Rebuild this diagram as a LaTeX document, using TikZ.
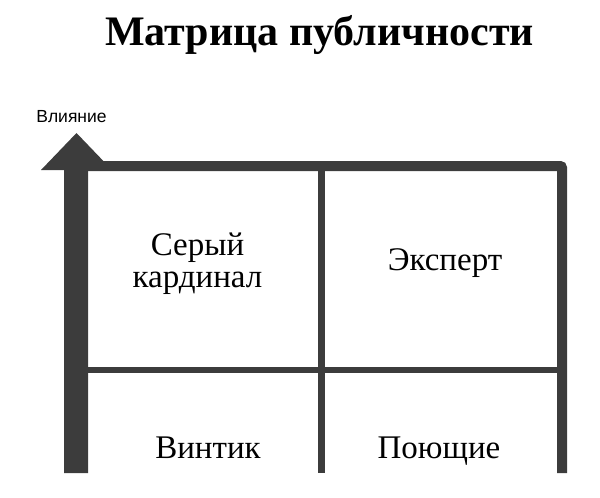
\documentclass[tikz,border=0pt]{standalone}
\usepackage{fontspec}
\setmainfont{Liberation Serif}
\newfontfamily\labelfont{Liberation Sans}
\definecolor{linegray}{RGB}{60,60,60}
\tikzset{
  cell/.style={font=\fontsize{33}{34}\selectfont, align=center, inner sep=0pt, anchor=base},
  gridline/.style={draw=linegray},
}
\begin{document}
\begin{tikzpicture}[x=1pt,y=-1pt]
\useasboundingbox (0,0) rectangle (600,498);
% title
\node[font=\fontsize{42}{44}\selectfont\bfseries, inner sep=0pt, anchor=base] (title) at (319.5,45) {Матрица публичности};
% axis label
\node[font=\labelfont\fontsize{17.5}{18}\selectfont, inner sep=0pt, anchor=base] (infl) at (71.5,122) {Влияние};
% coordinates
\coordinate (tl) at (76,166);
\coordinate (tm) at (321.5,166);
\coordinate (tr) at (562,166);
\coordinate (ml) at (76,370);
\coordinate (mr) at (562,370);
\coordinate (bl) at (76,473);
\coordinate (bm) at (321.5,473);
\coordinate (br) at (562,473);
% grid lines
\draw[gridline, line width=10pt, rounded corners=2pt] (tl) -- (tr) -- (br);
\draw[gridline, line width=7pt] (tm) -- (bm);
\draw[gridline, line width=6.5pt] (ml) -- (mr);
% vertical axis arrow
\fill[linegray] (64,170) -- (41,170) -- (76.5,133) -- (112,170) -- (88,170) -- (88,473) -- (64,473) -- cycle;
% cell texts
\node[cell] (c1a) at (197.5,255) {Серый};
\node[cell] (c1b) at (197.5,287) {кардинал};
\node[cell] (c2) at (445,270) {Эксперт};
\node[cell] (c3) at (208,458) {Винтик};
\node[cell] (c4) at (439,458) {Поющие};
\end{tikzpicture}
\end{document}
